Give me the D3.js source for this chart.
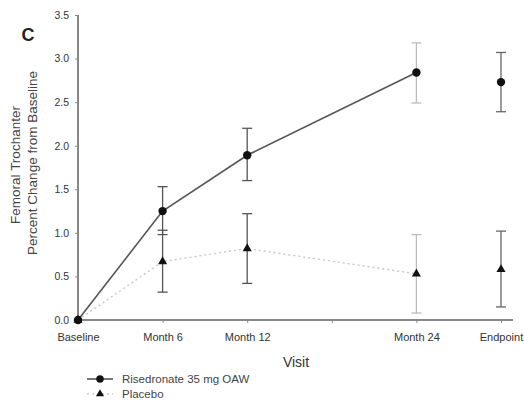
<!DOCTYPE html>
<html>
<head>
<meta charset="utf-8">
<script src="https://cdn.jsdelivr.net/npm/d3@7"></script>
<style>
  html, body { margin: 0; padding: 0; background: #fff; }
  svg { display: block; font-family: "Liberation Sans", Arial, sans-serif; }
</style>
</head>
<body>
<svg id="chart" width="524" height="404"></svg>
<script>
// Visits (month position on the time axis) and tick labels
const visits = ["Baseline", "Month 6", "Month 12", "Month 24", "Endpoint"];
const visitMonths = [0, 6, 12, 24, 30];
const xTickMonths = [0, 6, 12, 18, 24, 30];
const xTickLabels = ["Baseline", "Month 6", "Month 12", "", "Month 24", "Endpoint"];
const yTicks = [0, 0.5, 1.0, 1.5, 2.0, 2.5, 3.0, 3.5];

// Mean percent change and error bar bounds
const risedronate = [0, 1.25, 1.89, 2.84, 2.73];
const risedronateLow = [0, 0.98, 1.60, 2.49, 2.39];
const risedronateHigh = [0, 1.53, 2.20, 3.18, 3.07];

const placebo = [0, 0.67, 0.82, 0.53, 0.58];
const placeboLow = [0, 0.32, 0.42, 0.08, 0.15];
const placeboHigh = [0, 1.03, 1.22, 0.98, 1.02];

const svg = d3.select("#chart");
const x = d3.scaleLinear().domain([0, 30]).range([78, 501]);
const y = d3.scaleLinear().domain([0, 3.5]).range([320, 15]);
const axisEnd = 513;
const textColor = "#333";

// Axes
const yAxis = d3.axisLeft(y).tickValues(yTicks).tickFormat(d3.format(".1f")).tickSize(3).tickPadding(6);
const gy = svg.append("g").attr("transform", `translate(${x(0)},0)`).call(yAxis);
gy.select(".domain").attr("stroke", "#888").attr("stroke-width", 2)
  .attr("d", `M0,${y(0)}V${y(3.5)}`);
gy.selectAll(".tick line").attr("stroke", "#888");
gy.selectAll("text").attr("font-size", 10.5).attr("fill", textColor);

const xAxis = d3.axisBottom(x).tickValues(xTickMonths)
  .tickFormat((d, i) => xTickLabels[i]).tickSize(3).tickPadding(10);
const gx = svg.append("g").attr("transform", `translate(0,${y(0)})`).call(xAxis);
gx.select(".domain").attr("stroke", "#888").attr("stroke-width", 2)
  .attr("d", `M${x(0)},0H${axisEnd}`);
gx.selectAll(".tick line").attr("stroke", "#888");
gx.selectAll("text").attr("font-size", 11).attr("fill", textColor);

// Axis titles and panel letter
svg.append("text").attr("x", 28).attr("y", 41).attr("text-anchor", "middle")
  .attr("font-size", 18).attr("font-weight", "bold").attr("fill", "#222").text("C");
svg.append("text").attr("transform", "translate(20,165) rotate(-90)")
  .attr("text-anchor", "middle").attr("font-size", 13.5).attr("fill", "#444").text("Femoral Trochanter");
svg.append("text").attr("transform", "translate(37,163) rotate(-90)")
  .attr("text-anchor", "middle").attr("font-size", 13.5).attr("fill", "#444").text("Percent Change from Baseline");
svg.append("text").attr("x", 296).attr("y", 367).attr("text-anchor", "middle")
  .attr("font-size", 14).attr("fill", textColor).text("Visit");

// Series records
const series = [
  { name: "Risedronate 35 mg OAW", mean: risedronate, lo: risedronateLow, hi: risedronateHigh,
    line: "#555", dash: null, width: 1.6, symbol: d3.symbolCircle, size: 55 },
  { name: "Placebo", mean: placebo, lo: placeboLow, hi: placeboHigh,
    line: "#c8c8c8", dash: "2,3", width: 1.4, symbol: d3.symbolTriangle, size: 36 }
];
// error bar shade per visit (the month 24 bars print lighter)
const barColors = ["#555", "#555", "#555", "#bbb", "#666"];

series.forEach(s => {
  const pts = visitMonths.map((m, i) => ({ m, v: s.mean[i], lo: s.lo[i], hi: s.hi[i], i }));
  // connecting line through the scheduled visits; endpoint stands alone
  const line = d3.line().x(d => x(d.m)).y(d => y(d.v));
  svg.append("path").datum(pts.slice(0, 4)).attr("d", line)
    .attr("fill", "none").attr("stroke", s.line).attr("stroke-width", s.width)
    .attr("stroke-dasharray", s.dash);

  // error bars
  const eb = svg.append("g");
  pts.filter(d => d.hi > d.lo).forEach(d => {
    const c = barColors[d.i];
    eb.append("line").attr("x1", x(d.m)).attr("x2", x(d.m)).attr("y1", y(d.lo)).attr("y2", y(d.hi))
      .attr("stroke", c).attr("stroke-width", 1.3);
    [d.lo, d.hi].forEach(v => {
      eb.append("line").attr("x1", x(d.m) - 5).attr("x2", x(d.m) + 5).attr("y1", y(v)).attr("y2", y(v))
        .attr("stroke", c).attr("stroke-width", 1.3);
    });
  });

  // markers
  svg.append("g").selectAll("path").data(pts).join("path")
    .attr("transform", d => `translate(${x(d.m)},${y(d.v)})`)
    .attr("d", d3.symbol().type(s.symbol).size(s.size))
    .attr("fill", "#111");
});

// Legend
const legend = svg.append("g");
series.forEach((s, i) => {
  const ly = 379 + i * 15;
  legend.append("line").attr("x1", 87).attr("x2", 113).attr("y1", ly).attr("y2", ly)
    .attr("stroke", s.line).attr("stroke-width", s.width).attr("stroke-dasharray", s.dash);
  legend.append("path").attr("transform", `translate(100,${ly})`)
    .attr("d", d3.symbol().type(s.symbol).size(s.size * 0.8))
    .attr("fill", "#111");
  legend.append("text").attr("x", 122).attr("y", ly + 4).attr("font-size", 11.5)
    .attr("fill", "#444").text(s.name);
});
</script>
</body>
</html>
